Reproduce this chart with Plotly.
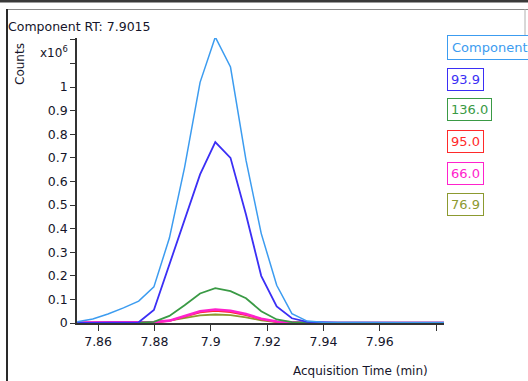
import plotly.graph_objects as go

# ---- data (counts in units of 1e6) ----
times = [7.8526, 7.8581, 7.8635, 7.8690, 7.8744, 7.8798, 7.8853, 7.8907, 7.8962, 7.9016,
         7.9070, 7.9125, 7.9179, 7.9234, 7.9288, 7.9342, 7.9397, 7.9451, 7.9506, 7.9560,
         7.9614, 7.9669, 7.9723, 7.9778, 7.9832]

component = [0.005, 0.017, 0.038, 0.064, 0.093, 0.153, 0.36, 0.66, 1.02, 1.212,
             1.085, 0.69, 0.38, 0.16, 0.04, 0.008, 0.003, 0.002, 0.002, 0.001,
             0.001, 0.001, 0.001, 0.001, 0.001]
ion_939 = [0.0, 0.0, 0.0, 0.0, 0.003, 0.055, 0.25, 0.44, 0.63, 0.767,
           0.70, 0.46, 0.20, 0.07, 0.02, 0.005, 0.002, 0.001, 0.001, 0.001,
           0.001, 0.001, 0.001, 0.001, 0.001]
ion_1360 = [0.0, 0.0, 0.0, 0.0, 0.001, 0.005, 0.03, 0.075, 0.125, 0.148,
            0.135, 0.105, 0.05, 0.015, 0.004, 0.001, 0.0, 0.0, 0.0, 0.0,
            0.0, 0.0, 0.0, 0.0, 0.0]
ion_950 = [0.0, 0.0, 0.0, 0.0, 0.001, 0.003, 0.009, 0.027, 0.045, 0.052,
           0.047, 0.034, 0.016, 0.005, 0.002, 0.0, 0.0, 0.0, 0.0, 0.0,
           0.0, 0.0, 0.0, 0.0, 0.0]
ion_660 = [0.002, 0.002, 0.001, 0.001, 0.002, 0.004, 0.01, 0.03, 0.05, 0.057,
           0.052, 0.038, 0.018, 0.006, 0.002, 0.0, 0.0, 0.0, 0.0, 0.0,
           0.0, 0.0, 0.0, 0.0, 0.0]
ion_769 = [0.0, 0.0, 0.0, 0.0, 0.001, 0.003, 0.01, 0.022, 0.032, 0.036,
           0.033, 0.024, 0.011, 0.004, 0.001, 0.001, 0.001, 0.001, 0.001, 0.001,
           0.001, 0.001, 0.001, 0.001, 0.001]

series_names = ["Component", "93.9", "136.0", "95.0", "66.0", "76.9"]
series_values = [component, ion_939, ion_1360, ion_950, ion_660, ion_769]
series_colors = ["#3c9cf0", "#3b2ff5", "#3a9a45", "#ff2a2a", "#ff22cc", "#8c9a30"]
series_widths = [1.5, 1.8, 1.8, 2.0, 2.6, 1.8]

x_ticks = [7.86, 7.88, 7.90, 7.92, 7.94, 7.96]
x_ticklabels = ["7.86", "7.88", "7.9", "7.92", "7.94", "7.96"]
x_minor_ticks = [7.98]
y_ticks = [0, 0.1, 0.2, 0.3, 0.4, 0.5, 0.6, 0.7, 0.8, 0.9, 1.0]
y_ticklabels = ["0", "0.1", "0.2", "0.3", "0.4", "0.5", "0.6", "0.7", "0.8", "0.9", "1"]
y_minor_ticks = [1.1, 1.2]

SCALE = 1e6

fig = go.Figure()
draw_order = [5, 3, 4, 2, 1, 0]
for i in draw_order:
    fig.add_trace(go.Scatter(
        x=times, y=[v * SCALE for v in series_values[i]], mode="lines",
        name=series_names[i], line=dict(color=series_colors[i], width=series_widths[i]),
        showlegend=False, hoverinfo="skip"))

FONT = "DejaVu Sans"
TXT = "#15152a"

fig.update_layout(
    width=528, height=381,
    margin=dict(l=77, r=84, t=38, b=58),
    paper_bgcolor="white", plot_bgcolor="white",
    font=dict(family=FONT, size=12, color=TXT),
    xaxis=dict(range=[7.8525, 7.9828], tickvals=x_ticks, ticktext=x_ticklabels,
               showgrid=False, zeroline=False, showline=True, linecolor="#333333",
               linewidth=1.5, ticks="outside", ticklen=6, tickcolor="#333333",
               tickfont=dict(size=12.5, color=TXT, family=FONT),
               minor=dict(tickvals=x_minor_ticks, ticks="outside", ticklen=6,
                          tickcolor="#333333", showgrid=False)),
    yaxis=dict(range=[0, 1.208 * SCALE], tickvals=[v * SCALE for v in y_ticks],
               ticktext=y_ticklabels, showgrid=False, zeroline=False, showline=True,
               linecolor="#333333", linewidth=1.5, ticks="outside", ticklen=5,
               tickcolor="#333333", tickfont=dict(size=12.5, color=TXT, family=FONT),
               minor=dict(tickvals=[v * SCALE for v in y_minor_ticks], ticks="outside",
                          ticklen=5, tickcolor="#333333", showgrid=False)),
)

def px_x(px):
    return (px - 77) / 367.0

def px_y(py):
    return (323 - py) / 285.0

annotations = [
    dict(text="Component RT: 7.9015", x=px_x(6), y=px_y(26), xref="paper", yref="paper",
         xanchor="left", yanchor="middle", showarrow=False,
         font=dict(size=12.5, color=TXT, family=FONT)),
    dict(text="Counts", x=px_x(20), y=px_y(64), xref="paper", yref="paper",
         xanchor="center", yanchor="middle", textangle=-90, showarrow=False,
         font=dict(size=12, color=TXT, family=FONT)),
    dict(text="x10<sup>6</sup>", x=px_x(70), y=px_y(52), xref="paper", yref="paper",
         xanchor="right", yanchor="middle", showarrow=False,
         font=dict(size=12, color=TXT, family=FONT)),
    dict(text="Acquisition Time (min)", x=px_x(430), y=px_y(371), xref="paper", yref="paper",
         xanchor="right", yanchor="middle", showarrow=False,
         font=dict(size=12, color=TXT, family=FONT)),
]

legend_tops = [35, 68, 98, 130, 162, 193]
for name, color, top in zip(series_names, series_colors, legend_tops):
    pad = 4 if name == "Component" else 3
    annotations.append(dict(
        text=name, x=px_x(447), y=px_y(top), xref="paper", yref="paper",
        xanchor="left", yanchor="top", showarrow=False, align="left",
        bordercolor=color, borderwidth=1, borderpad=pad, bgcolor="white",
        font=dict(size=13, color=color, family=FONT)))

fig.update_layout(annotations=annotations)

shapes = [
    # top dark strip
    dict(type="rect", xref="paper", yref="paper", x0=px_x(0), x1=px_x(528),
         y0=px_y(2.5), y1=px_y(-1), line=dict(width=0), fillcolor="#3a3a3a"),
    # frame top
    dict(type="line", xref="paper", yref="paper", x0=px_x(7), x1=px_x(528),
         y0=px_y(9.5), y1=px_y(9.5), line=dict(color="#8a8a8a", width=1.2)),
    # frame left
    dict(type="line", xref="paper", yref="paper", x0=px_x(7), x1=px_x(7),
         y0=px_y(9), y1=px_y(382), line=dict(color="#2a2a2a", width=2)),
    # frame right
    dict(type="line", xref="paper", yref="paper", x0=px_x(525), x1=px_x(525),
         y0=px_y(9), y1=px_y(60), line=dict(color="#b0b0b0", width=1)),
]
fig.update_layout(shapes=shapes)

fig.write_html("out.html", config={"displayModeBar": False},
               post_script="document.body.style.margin='0';")
